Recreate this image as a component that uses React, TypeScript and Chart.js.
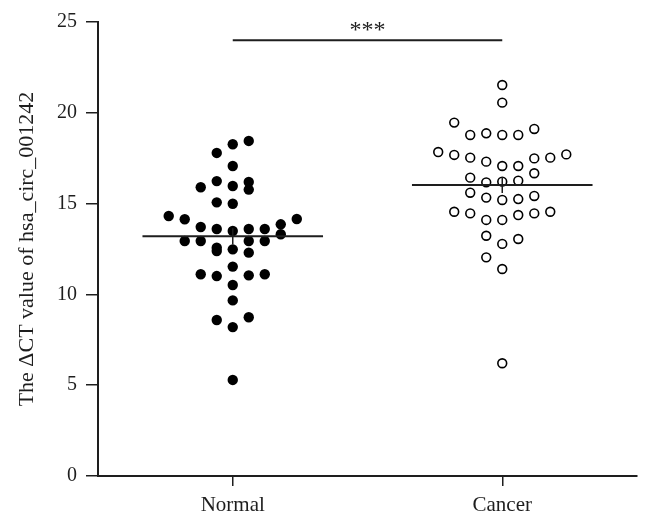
import { useEffect, useRef } from 'react';
import { Chart, registerables } from 'chart.js';

Chart.register(...registerables);

// ---- data ----
const CATEGORIES = ['Normal', 'Cancer'];
const Y_TICK_STEP = 5;
const Y_MIN = 0;
const Y_MAX = 25;
const Y_TITLE = 'The \u0394CT value of hsa_circ_001242';

const NORMAL_VALUES = [
  18.45, 18.27, 17.79, 17.07, 16.24, 15.9, 15.97, 16.19, 15.77, 15.07,
  14.99, 14.32, 14.14, 14.15, 13.86, 13.71, 13.6, 13.49, 13.6, 13.6,
  13.31, 12.94, 12.94, 12.94, 12.94, 12.57, 12.39, 12.48, 12.3, 11.53,
  11.11, 11.01, 11.05, 11.11, 10.52, 9.67, 8.59, 8.74, 8.2, 5.29,
];
// swarm column of each Normal point (-4 .. 4)
const NORMAL_COLUMNS = [
  1, 0, -1, 0, -1, -2, 0, 1, 1, -1,
  0, -4, -3, 4, 3, -2, -1, 0, 1, 2,
  3, -3, -2, 1, 2, -1, -1, 0, 1, 0,
  -2, -1, 1, 2, 0, 0, -1, 1, 0, 0,
];

const CANCER_VALUES = [
  21.53, 20.56, 19.46, 19.11, 18.78, 18.87, 18.78, 18.78, 17.84, 17.68,
  17.53, 17.31, 17.07, 17.07, 17.49, 17.53, 17.71, 16.43, 16.17, 16.21,
  16.26, 16.67, 15.6, 15.33, 15.2, 15.25, 15.42, 14.55, 14.46, 14.1,
  14.1, 14.37, 14.46, 14.55, 13.23, 12.78, 13.05, 12.04, 11.4, 6.21,
];
const CANCER_COLUMNS = [
  0, 0, -3, 2, -2, -1, 0, 1, -4, -3,
  -2, -1, 0, 1, 2, 3, 4, -2, -1, 0,
  1, 2, -2, -1, 0, 1, 2, -3, -2, -1,
  0, 1, 2, 3, -1, 0, 1, -1, 0, 0,
];

const SIGNIFICANCE_LABEL = '***';
const SIGNIFICANCE_Y = 24;

// ---- style / layout ----
const COLUMN_STEP = 0.0594;
const MEAN_HALF_WIDTH = 0.335;
const INK = '#1e1e1e';
const FONT_FAMILY = '"Liberation Serif", "Times New Roman", serif';

const mean = (a: number[]) => a.reduce((s, v) => s + v, 0) / a.length;
const sem = (a: number[]) => {
  const m = mean(a);
  const v = a.reduce((s, x) => s + (x - m) ** 2, 0) / (a.length - 1);
  return Math.sqrt(v / a.length);
};

export default function App() {
  const ref = useRef<HTMLCanvasElement>(null);

  useEffect(() => {
    if (!ref.current) return;
    const groups = [
      { values: NORMAL_VALUES, cols: NORMAL_COLUMNS },
      { values: CANCER_VALUES, cols: CANCER_COLUMNS },
    ];

    const lineBase = {
      showLine: true,
      borderColor: INK,
      borderWidth: 2,
      pointRadius: 0,
      pointHoverRadius: 0,
      fill: false,
      order: 0,
      clip: false as const,
    };

    const datasets: any[] = [
      {
        label: CATEGORIES[0],
        data: NORMAL_VALUES.map((v, i) => ({ x: 0 + NORMAL_COLUMNS[i] * COLUMN_STEP, y: v })),
        pointRadius: 5.2,
        pointBackgroundColor: '#000',
        pointBorderColor: '#000',
        pointBorderWidth: 0,
        order: 1,
        clip: false,
      },
      {
        label: CATEGORIES[1],
        data: CANCER_VALUES.map((v, i) => ({ x: 1 + CANCER_COLUMNS[i] * COLUMN_STEP, y: v })),
        pointRadius: 4.4,
        pointBackgroundColor: '#fff',
        pointBorderColor: '#000',
        pointBorderWidth: 1.6,
        order: 1,
        clip: false,
      },
    ];

    groups.forEach((g, i) => {
      const m = mean(g.values);
      const e = sem(g.values);
      datasets.push({
        ...lineBase,
        data: [
          { x: i - MEAN_HALF_WIDTH, y: m },
          { x: i + MEAN_HALF_WIDTH, y: m },
        ],
      });
      datasets.push({
        ...lineBase,
        borderWidth: 1.5,
        data: [
          { x: i, y: m - e },
          { x: i, y: m + e },
        ],
      });
    });

    datasets.push({
      ...lineBase,
      data: [
        { x: 0, y: SIGNIFICANCE_Y },
        { x: 1, y: SIGNIFICANCE_Y },
      ],
    });

    const sigPlugin = {
      id: 'sigLabel',
      afterDatasetsDraw(chart: any) {
        const { ctx, scales } = chart;
        const x = scales.x.getPixelForValue(0.5);
        const y = scales.y.getPixelForValue(SIGNIFICANCE_Y) - 3;
        ctx.save();
        ctx.font = `24px ${FONT_FAMILY}`;
        ctx.fillStyle = INK;
        ctx.textAlign = 'center';
        ctx.textBaseline = 'alphabetic';
        ctx.fillText(SIGNIFICANCE_LABEL, x, y);
        ctx.restore();
      },
    };

    const chart = new Chart(ref.current, {
      type: 'scatter',
      data: { datasets },
      options: {
        responsive: false,
        animation: false,
        events: [],
        layout: { padding: { left: 0, top: 22, right: 14, bottom: 0 } },
        plugins: {
          legend: { display: false },
          tooltip: { enabled: false },
        },
        scales: {
          x: {
            type: 'linear',
            min: -0.5,
            max: 1.5,
            afterBuildTicks: (scale: any) => {
              scale.ticks = CATEGORIES.map((_, i) => ({ value: i }));
            },
            afterFit: (scale: any) => {
              scale.height = 49;
            },
            ticks: {
              autoSkip: false,
              maxRotation: 0,
              padding: 7,
              color: INK,
              font: { family: FONT_FAMILY, size: 21 },
              callback: (v: any) => CATEGORIES[Math.round(Number(v))] ?? '',
            },
            grid: {
              display: true,
              drawOnChartArea: false,
              drawTicks: true,
              tickLength: 10,
              color: INK,
              lineWidth: 1.5,
            },
            border: { display: true, color: INK, width: 2 },
          },
          y: {
            type: 'linear',
            min: Y_MIN,
            max: Y_MAX,
            afterFit: (scale: any) => {
              scale.width = 98;
            },
            ticks: {
              stepSize: Y_TICK_STEP,
              padding: 9,
              color: INK,
              font: { family: FONT_FAMILY, size: 20 },
            },
            grid: {
              display: true,
              drawOnChartArea: false,
              drawTicks: true,
              tickLength: 12,
              color: INK,
              lineWidth: 1.5,
            },
            border: { display: true, color: INK, width: 2 },
            title: {
              display: true,
              text: Y_TITLE,
              color: INK,
              font: { family: FONT_FAMILY, size: 22 },
              padding: { top: 14, bottom: 0 },
            },
          },
        },
      },
      plugins: [sigPlugin],
    });

    return () => chart.destroy();
  }, []);

  return (
    <div style={{ position: 'absolute', left: 0, top: 0, width: 651, height: 525, background: '#fff' }}>
      <canvas ref={ref} width={651} height={525} />
    </div>
  );
}
